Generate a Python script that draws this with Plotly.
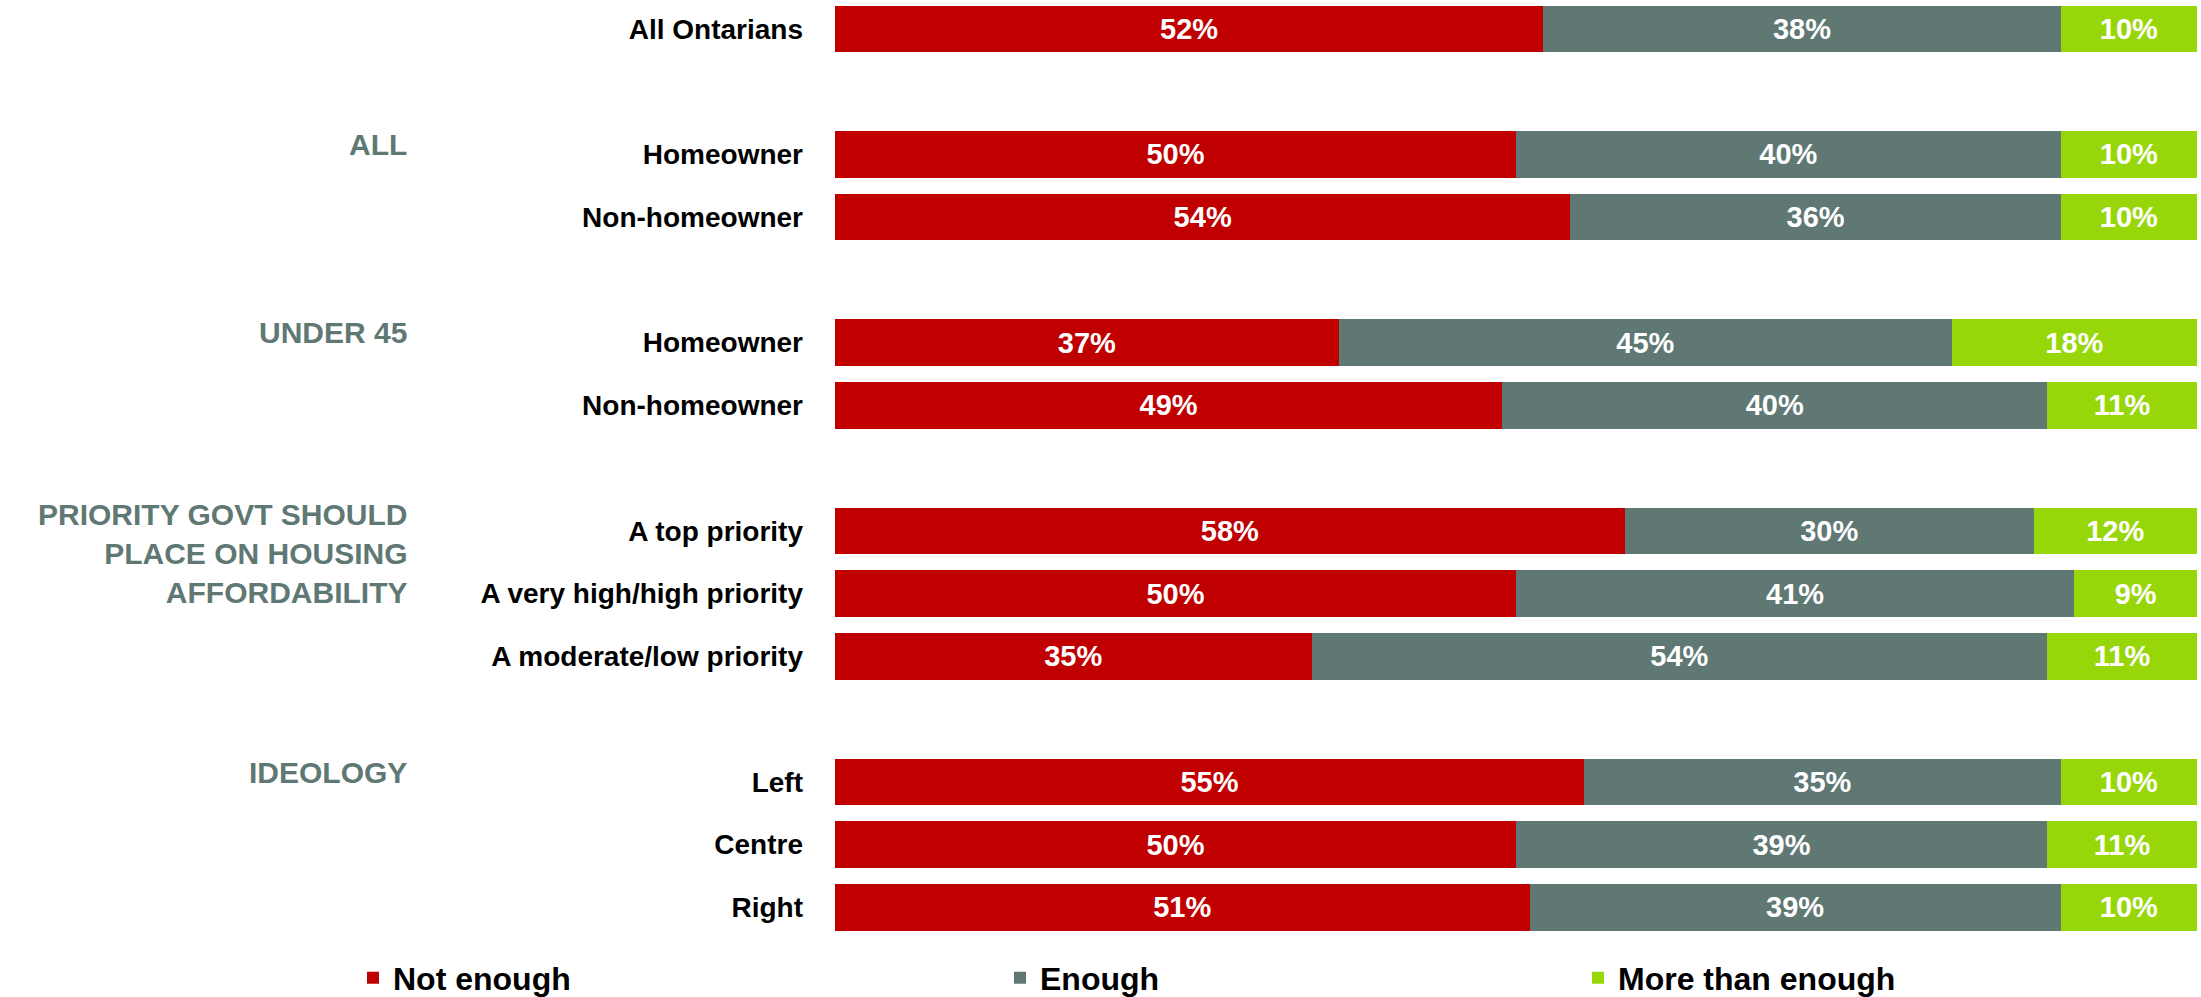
import plotly.graph_objects as go

# ---- data ----
categories = ["All Ontarians",
              "Homeowner", "Non-homeowner",
              "Homeowner", "Non-homeowner",
              "A top priority", "A very high/high priority", "A moderate/low priority",
              "Left", "Centre", "Right"]
row_group = [0, 1, 1, 2, 2, 3, 3, 3, 4, 4, 4]
group_labels = ["", "ALL", "UNDER 45",
                "PRIORITY GOVT SHOULD<br>PLACE ON HOUSING<br>AFFORDABILITY", "IDEOLOGY"]
not_enough = [52, 50, 54, 37, 49, 58, 50, 35, 55, 50, 51]
enough = [38, 40, 36, 45, 40, 30, 41, 54, 35, 39, 39]
more_than_enough = [10, 10, 10, 18, 11, 12, 9, 11, 10, 11, 10]
series_names = ["Not enough", "Enough", "More than enough"]

colors = ["#C00000", "#607874", "#97D70A"]
FONT = "Liberation Sans"

# row positions: one blank slot between groups
positions = []
pos = 0
prev = row_group[0]
for g in row_group:
    if g != prev:
        pos += 1
        prev = g
    positions.append(pos)
    pos += 1

fig = go.Figure()
legends = ["legend", "legend2", "legend3"]
for name, vals, col, lg in zip(series_names, [not_enough, enough, more_than_enough], colors, legends):
    fig.add_trace(go.Bar(
        y=positions, x=vals, name=name, orientation="h",
        marker=dict(color=col, line=dict(width=0)),
        width=0.74,
        text=[f"{v}%" for v in vals], textposition="inside",
        insidetextanchor="middle",
        textfont=dict(color="white", size=29, family=FONT, weight="bold"),
        legend=lg, showlegend=True, hoverinfo="skip",
    ))

W, H = 2201, 997
ml, mr, mt, mb = 835, 4, 0, 57
plot_w = W - ml - mr
plot_h = H - mt - mb

# group labels
first_pos = {}
for p, g in zip(positions, row_group):
    first_pos.setdefault(g, p)
for g, lab in enumerate(group_labels):
    if lab:
        off = -0.56 if "<br>" in lab else -0.45
        fig.add_annotation(
            x=(409 - ml) / plot_w, xref="paper", xanchor="right",
            y=first_pos[g] + off, yref="y", yanchor="top",
            text=lab, showarrow=False, align="right",
            font=dict(color="#607874", size=30, family=FONT, weight="bold"),
        )

px_per_unit = 62.76
top_val = -28.8 / px_per_unit
bot_val = top_val + plot_h / px_per_unit

leg_font = dict(color="black", size=32, family=FONT, weight="bold")
legend_common = dict(orientation="h", yref="paper", y=(plot_h - 978) / plot_h, yanchor="middle",
                     xanchor="left", font=leg_font, bgcolor="rgba(0,0,0,0)")

fig.update_layout(
    width=W, height=H,
    margin=dict(l=ml, r=mr, t=mt, b=mb, autoexpand=False),
    barmode="stack",
    plot_bgcolor="white", paper_bgcolor="white",
    bargap=0,
    xaxis=dict(range=[0, 100], visible=False, fixedrange=True),
    yaxis=dict(range=[bot_val, top_val], tickvals=positions, ticktext=categories,
               showgrid=False, zeroline=False, showline=False, ticks="",
               ticklabelstandoff=31, automargin=False,
               tickfont=dict(color="black", size=28, family=FONT, weight="bold")),
    legend=dict(x=(353 - ml) / plot_w, **legend_common),
    legend2=dict(x=(1000 - ml) / plot_w, **legend_common),
    legend3=dict(x=(1578 - ml) / plot_w, **legend_common),
    uniformtext=dict(minsize=10, mode="show"),
)

fig.write_html("out.html",
               config={"displayModeBar": False, "staticPlot": True},
               post_script="document.body.style.margin='0';document.body.style.overflow='hidden';")
